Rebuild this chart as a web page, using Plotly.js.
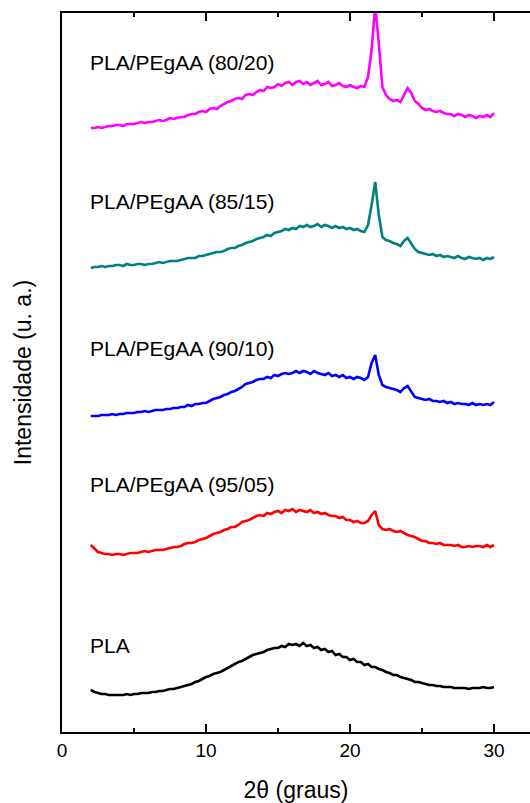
<!DOCTYPE html>
<html>
<head>
<meta charset="utf-8">
<script src="https://cdn.plot.ly/plotly-3.0.1.min.js"></script>
<style>html,body{margin:0;padding:0;background:#fff;}#chart{width:530px;height:803px;}</style>
</head>
<body>
<div id="chart"></div>
<script>
// 2θ grid: 2.00 .. 30.00 in 0.25 steps (113 points)
const thetaStart = 2, thetaStep = 0.25, thetaCount = 113;
const theta = [];
for (let i = 0; i < thetaCount; i++) theta.push(thetaStart + i * thetaStep);

const seriesNames = ["PLA", "PLA/PEgAA (95/05)", "PLA/PEgAA (90/10)", "PLA/PEgAA (85/15)", "PLA/PEgAA (80/20)"];

const pla = [
 42,40,39,38, 38,37,37,37, 37,37,38,37, 38,38,39,39, 39,40,40,41, 41,42,43,43,
 44,45,46,47, 48,50,51,53, 55,56,58,59, 60,62,64,66, 68,70,71,73, 75,77,78,79,
 80,82,83,84, 84,86,85,88, 87,88,86,89, 86,87,84,85, 82,83,80,81, 77,78,75,75,
 72,73,70,70, 67,68,65,65, 63,62,60,59, 57,57,55,54, 53,52,50,50, 49,48,47,47,
 46,46,45,45, 45,44,44,44, 44,43,44,44, 44,45,44,44, 45
];
const pla9505 = [
 187,183,180,179, 178,178,177,178, 178,177,178,179, 179,179,180,181, 180,181,182,182,
 182,183,184,185, 185,186,188,189, 189,190,192,193, 194,196,198,199, 200,202,203,205,
 205,207,210,211, 212,214,216,217, 216,219,218,220, 221,219,222,221, 223,220,222,221,
 220,222,219,220, 218,219,217,216, 216,214,215,212, 212,210,211,209, 209,211,217,221,
 207,203,202,203, 201,200,201,199, 197,196,195,193, 191,191,189,189, 188,189,187,187,
 187,186,187,185, 185,186,185,186, 186,185,187,185, 187
];
const pla9010 = [
 316,316,316,317, 317,317,318,317, 318,318,319,319, 319,320,320,321, 320,321,322,322,
 322,323,323,324, 324,325,325,327, 326,328,328,329, 329,331,333,334, 335,337,338,340,
 341,343,345,348, 349,350,352,353, 353,355,354,357, 356,358,359,358, 359,361,359,361,
 360,358,361,359, 358,357,359,356, 357,355,357,354, 355,353,355,354, 352,355,369,377,
 357,347,345,344, 343,342,340,344, 346,340,335,334, 333,332,333,331, 331,330,331,329,
 330,328,329,328, 328,327,329,327, 328,327,328,327, 330
];
const pla8515 = [
 464,465,465,466, 465,466,466,467, 467,466,468,467, 467,468,468,467, 468,468,469,470,
 469,470,471,471, 471,472,473,474, 474,474,476,476, 477,478,479,480, 480,481,483,484,
 484,486,487,489, 490,491,493,494, 495,497,496,499, 500,501,503,502, 504,503,506,505,
 507,505,506,508, 505,507,506,504, 506,504,505,503, 504,502,503,501, 500,507,527,550,
 517,495,492,491, 489,488,486,491, 494,489,483,480, 479,478,477,478, 476,477,475,476,
 475,474,476,474, 473,475,474,473, 474,472,474,473, 475
];
const pla8020 = [
 604,604,605,604, 605,606,606,607, 607,606,608,608, 608,609,610,609, 610,610,611,612,
 611,612,614,613, 614,615,615,617, 618,618,620,621, 620,623,624,623, 626,628,630,631,
 633,634,633,637, 638,637,640,642, 641,645,644,645, 648,646,649,650, 647,650,651,648,
 650,647,649,651, 647,648,650,646, 647,649,646,645, 647,645,644,646, 645,655,682,727,
 688,645,637,633, 631,632,630,637, 644,639,631,628, 624,622,623,621, 620,621,619,618,
 618,616,618,617, 615,617,616,614, 616,615,617,615, 619
];

const seriesValues = [pla, pla9505, pla9010, pla8515, pla8020];
const seriesColors = ["#000000", "#ff0000", "#0000ff", "#008080", "#ff00ff"];
const labelY = [87, 248, 384, 531, 670];

const FONT = "Arial, 'Liberation Sans', sans-serif";

const traces = seriesValues.map((v, i) => ({
  x: theta, y: v, type: "scatter", mode: "lines", name: seriesNames[i],
  line: {color: seriesColors[i], width: 2.6}, hoverinfo: "skip"
}));

const annotations = seriesNames.map((n, i) => ({
  text: n, x: 1.8, y: labelY[i], xref: "x", yref: "y",
  xanchor: "left", yanchor: "middle", showarrow: false,
  font: {family: FONT, size: 21, color: "#000"}
}));

const layout = {
  width: 530, height: 803,
  margin: {l: 62, r: 0, t: 13, b: 71},
  paper_bgcolor: "#fff", plot_bgcolor: "#fff",
  showlegend: false,
  font: {family: FONT, color: "#000"},
  xaxis: {
    range: [0, 32.5], showgrid: false, zeroline: false,
    showline: true, linecolor: "#000", linewidth: 2, mirror: "ticks",
    ticks: "inside", ticklen: 8, tickwidth: 1.5, tickcolor: "#000",
    tick0: 0, dtick: 10,
    minor: {ticks: "inside", ticklen: 4, tickwidth: 1.5, dtick: 5, tickcolor: "#000", showgrid: false},
    tickfont: {family: FONT, size: 19, color: "#000"},
    title: {text: "2θ (graus)", font: {family: FONT, size: 23, color: "#000"}, standoff: 24}
  },
  yaxis: {
    range: [0, 719], showgrid: false, zeroline: false,
    showline: true, linecolor: "#000", linewidth: 2, mirror: false,
    ticks: "", showticklabels: false,
    title: {text: "Intensidade (u. a.)", font: {family: FONT, size: 23, color: "#000"}, standoff: 22}
  },
  annotations: annotations
};

Plotly.newPlot("chart", traces, layout, {staticPlot: true, displayModeBar: false});
</script>
</body>
</html>
